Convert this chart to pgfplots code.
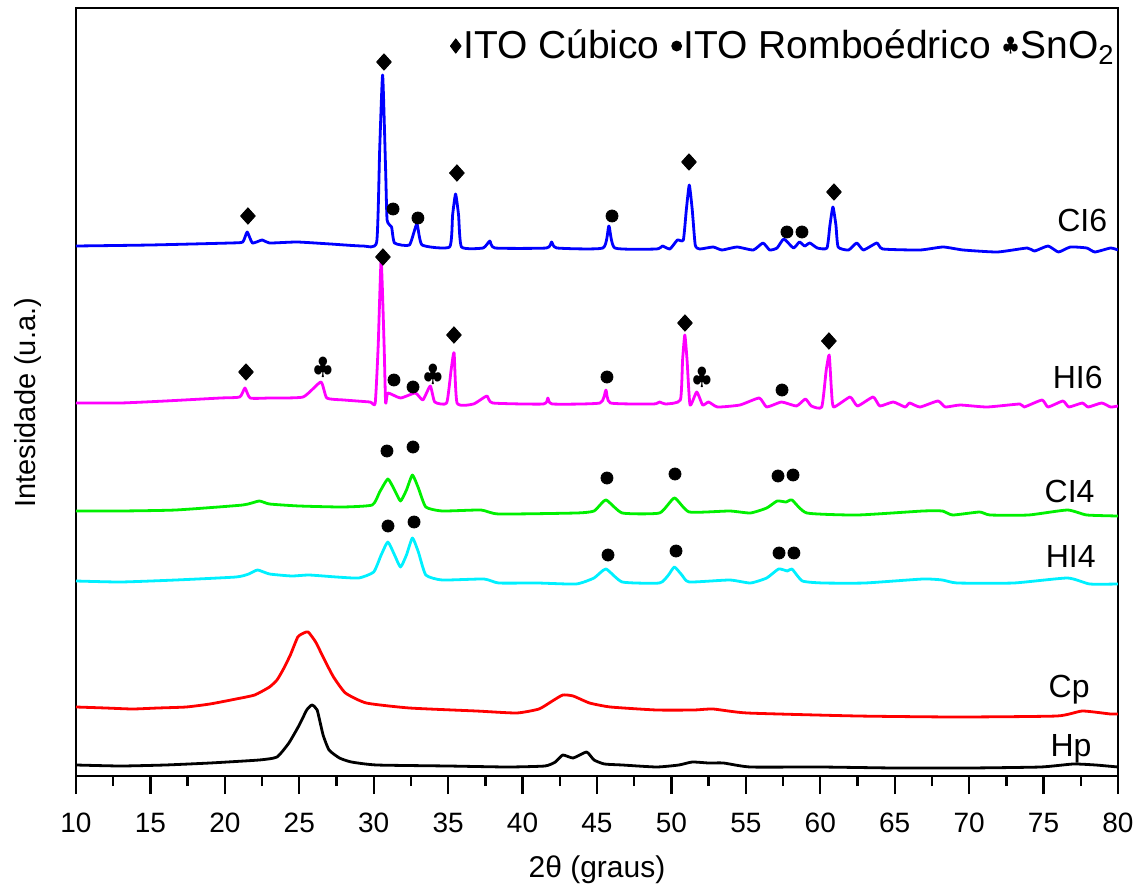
\documentclass[border=0pt]{standalone}
\usepackage{pgfplots}
\pgfplotsset{compat=1.18}
\usepackage{fontspec}
\setmainfont{Liberation Sans}
\definecolor{cBlue}{RGB}{0,0,255}
\definecolor{cMag}{RGB}{255,0,255}
\definecolor{cGreen}{RGB}{0,240,0}
\definecolor{cCyan}{RGB}{0,240,255}
\definecolor{cRed}{RGB}{255,0,0}

% curves, y in plot units (offset stacking as in the original figure)
\pgfplotstableread{
x y
10 11
13 10
16 11
19 13
22.3 16
23.5 19
24.3 33
25.0 51
25.5 66
25.85 71
26.2 66
26.6 41
27.0 26
27.7 18
28.5 14
30.2 11
35 10
39 9
41.5 10
42.2 14
42.7 21
43.4 18
44.3 24
44.8 16
45.5 12
46.7 11
49.0 9
50.5 11
51.4 14
52.5 13
53.5 13
55.3 9
60 9
65 8
70 8
74.8 9
77 12
78.5 11
80 9
}\hp
\pgfplotstableread{
x y
10 69
12 68
13.8 67
15.5 68
17.4 69
19 72
20.75 77
22 81
23.0 89
23.5 96
23.9 106
24.4 121
24.9 139
25.3 143
25.6 144
26.1 134
26.7 116
27.3 99
28.1 83
29.5 73
32.4 68
36.9 65
39.6 63
41.1 67
42.0 75
42.7 81
43.4 80
44.5 73
45.9 69
49.0 66
51.5 66
52.8 67
55.1 63
62.5 60
69.2 59
75.9 60
77.6 65
79.5 62
80 62
}\cp
\pgfplotstableread{
x y
10 195
13 194
16.7 196
20.75 199
21.6 202
22.2 206
23.0 202
24.5 200
25.65 201
27.5 199
29.0 198
30.0 204
30.5 221
30.95 234
31.4 221
31.8 209
32.2 221
32.6 238
33.0 224
33.5 201
34.6 196
37.4 197
38.4 193
41 193
43.6 192
44.8 198
45.6 207
46.7 194
49.2 193
49.8 201
50.2 209
50.7 201
51.2 194
53.9 196
55.3 193
56.4 198
57.2 207
57.8 205
58.1 207
58.8 195
60.2 193
63 193
66.9 197
68.2 196
69.2 193
73 193
76.6 198
78.1 192
80 192
}\hifour
\pgfplotstableread{
x y
10 265
13 265
16.7 266
21.2 271
22.3 275
23.0 272
25 270
27.9 269
29.9 271
30.4 284
30.95 297
31.4 286
31.8 275
32.2 286
32.6 301
33.0 288
33.5 269
34.6 265
37.2 266
38.4 262
43.6 263
44.8 265
45.6 276
46.7 263
49.2 263
50.2 278
51.2 264
53.9 265
55.3 263
56.4 268
57.1 275
57.7 274
58.1 276
59.1 263
62.5 261
66.9 265
68.2 265
68.9 261
70.7 264
71.4 261
74 261
76.6 266
77.9 261
80 260
}\cifour
\pgfplotstableread{
x y
10 373
13 373
16 375
19.7 378
21.0 379
21.35 388
21.7 378
23 378
25.25 379
26.45 394
26.85 378
28 376
29.75 374
30.1 373
30.3 430
30.5 516
30.7 430
30.8 373
30.95 383
31.8 378
32.8 383
33.3 376
33.8 390
34.1 374
34.9 373
35.2 406
35.4 423
35.6 373
36.7 372
37.6 380
38.0 373
41.4 372
41.7 378
42.0 372
45.2 373
45.6 386
45.9 373
48.8 372
49.2 374
49.6 372
50.6 376
50.75 416
50.9 441
51.05 416
51.25 371
51.7 384
52.1 371
52.5 374
53.1 369
54.6 371
55.9 378
56.4 369
57.4 374
58.4 370
59.0 377
59.4 370
60.1 369
60.4 406
60.6 421
60.75 386
60.9 369
62.0 379
62.5 370
63.55 379
64.0 370
64.9 374
65.7 369
66.0 373
66.7 369
67.9 375
68.4 369
69.4 371
71.2 369
73.4 372
73.7 369
74.9 376
75.3 369
76.3 375
76.7 369
77.6 373
78.0 369
78.9 373
79.5 369
80 370
}\hisix
\pgfplotstableread{
x y
10 530
15 531
20.35 533
21.2 534
21.5 544
21.85 533
22.5 536
23.0 533
24.85 534
27.1 532
29.3 530
30.2 534
30.4 626
30.6 701
30.8 606
30.9 556
31.2 549
31.4 533
32.4 531
32.9 552
33.25 531
35.1 529
35.3 561
35.5 582
35.7 561
35.9 529
37.35 528
37.8 535
38.15 528
41.6 528
41.95 534
42.3 528
45.4 528
45.8 550
46.2 528
49.0 527
49.4 530
49.9 527
50.4 536
50.8 536
51.0 566
51.2 591
51.4 566
51.6 531
51.9 527
52.8 529
53.4 526
54.4 529
55.5 526
56.15 533
56.6 526
57.1 528
57.55 537
58.2 528
58.6 534
58.95 530
59.3 533
59.8 528
60.45 528
60.65 551
60.85 569
61.05 551
61.2 529
61.9 526
62.45 533
62.9 526
63.8 533
64.2 527
66.7 526
68.25 529
69.6 526
71.9 524
73.9 528
74.4 525
75.3 530
76.0 524
76.8 529
77.9 528
78.45 524
79.5 528
80 526
}\cisix

% phase markers
\pgfplotstableread{
x y
21.55 560
30.69 714
35.59 603
51.18 614
60.92 584
21.42 404
30.62 519
35.39 441
50.91 453
60.58 435
}\cubico
\pgfplotstableread{
x y
31.30 567
32.97 558
46.01 560
57.76 544
58.77 544
31.36 396
32.64 389
45.67 399
57.43 386
30.89 325
32.64 329
45.67 298
50.24 302
57.16 300
58.17 301
30.96 250
32.71 254
45.74 221
50.31 225
57.23 223
58.23 223
}\rombo
\pgfplotstableread{
x y
26.59 408
33.98 401
52.05 398
}\sno

\begin{document}
\begin{tikzpicture}
\useasboundingbox (-38pt,-54.5pt) rectangle (530pt,388pt);
\begin{axis}[
  at={(0pt,0pt)}, anchor=south west,
  width=521pt, height=384pt, scale only axis,
  xmin=10, xmax=80, ymin=0, ymax=768,
  xtick={10,15,...,80}, minor x tick num=1,
  ytick=\empty,
  xtick pos=left, tick align=outside,
  major tick length=9pt, minor tick length=5pt,
  every tick/.style={black, line width=1.2pt},
  axis line style={line width=1.3pt},
  xticklabel style={font=\fontsize{14}{16}\selectfont, yshift=-6pt},
  /pgf/number format/assume math mode=true,
  xlabel={2θ (graus)}, ylabel={Intesidade (u.a.)},
  xlabel style={font=\fontsize{15}{18}\selectfont, at={(axis description cs:0.5,-0.122)}, anchor=center},
  ylabel style={font=\fontsize{14.5}{17}\selectfont, at={(axis description cs:-0.046,0.486)}, anchor=center},
  legend style={at={(axis description cs:0.999,0.9505)}, anchor=east, draw=none, fill=none,
    inner sep=0pt, legend columns=3, font=\fontsize{19.5}{22}\selectfont,
    /tikz/every even column/.append style={column sep=5pt},
    nodes={inner xsep=1pt}},
  every axis plot/.append style={line join=round},
]
\addplot[black, line width=1.4pt, no markers, smooth, tension=0.3, forget plot] table {\hp};
\addplot[cRed, line width=1.4pt, no markers, smooth, tension=0.3, forget plot] table {\cp};
\addplot[cCyan, line width=1.4pt, no markers, smooth, tension=0.3, forget plot] table {\hifour};
\addplot[cGreen, line width=1.4pt, no markers, smooth, tension=0.3, forget plot] table {\cifour};
\addplot[cMag, line width=1.4pt, no markers, smooth, tension=0.3, forget plot] table {\hisix};
\addplot[cBlue, line width=1.4pt, no markers, smooth, tension=0.3, forget plot] table {\cisix};

\addplot[only marks, black, mark=diamond*, mark size=4.1pt, mark options={xscale=1.2}, forget plot] table {\cubico};
\addplot[only marks, black, mark=*, mark size=3pt, forget plot] table {\rombo};
\addplot[only marks, black, mark=text,
  text mark={\fontsize{13}{13}\selectfont$\clubsuit$}, forget plot] table {\sno};

\addlegendimage{legend image code/.code={\draw[black, fill=black, mark size=3.6pt] plot[mark=diamond*] coordinates {(0pt,0pt)};}}
\addlegendentry{ITO Cúbico}
\addlegendimage{legend image code/.code={\draw[black, fill=black, mark size=2.5pt] plot[mark=*] coordinates {(0pt,0pt)};}}
\addlegendentry{ITO Romboédrico}
\addlegendimage{legend image code/.code={\node[inner sep=0pt, font=\fontsize{10}{10}\selectfont] at (0pt,0pt) {$\clubsuit$};}}
\addlegendentry{SnO\textsubscript{2}}

\node[anchor=base east, inner sep=0pt, font=\fontsize{16}{19}\selectfont] at (axis cs:79.3,544) {CI6};
\node[anchor=base east, inner sep=0pt, font=\fontsize{16}{19}\selectfont] at (axis cs:78.99,388) {HI6};
\node[anchor=base east, inner sep=0pt, font=\fontsize{16}{19}\selectfont] at (axis cs:78.45,274) {CI4};
\node[anchor=base east, inner sep=0pt, font=\fontsize{16}{19}\selectfont] at (axis cs:78.52,209) {HI4};
\node[anchor=base east, inner sep=0pt, font=\fontsize{16}{19}\selectfont] at (axis cs:78.12,79) {Cp};
\node[anchor=base east, inner sep=0pt, font=\fontsize{16}{19}\selectfont] at (axis cs:78.25,20) {Hp};
\end{axis}
\end{tikzpicture}
\end{document}
